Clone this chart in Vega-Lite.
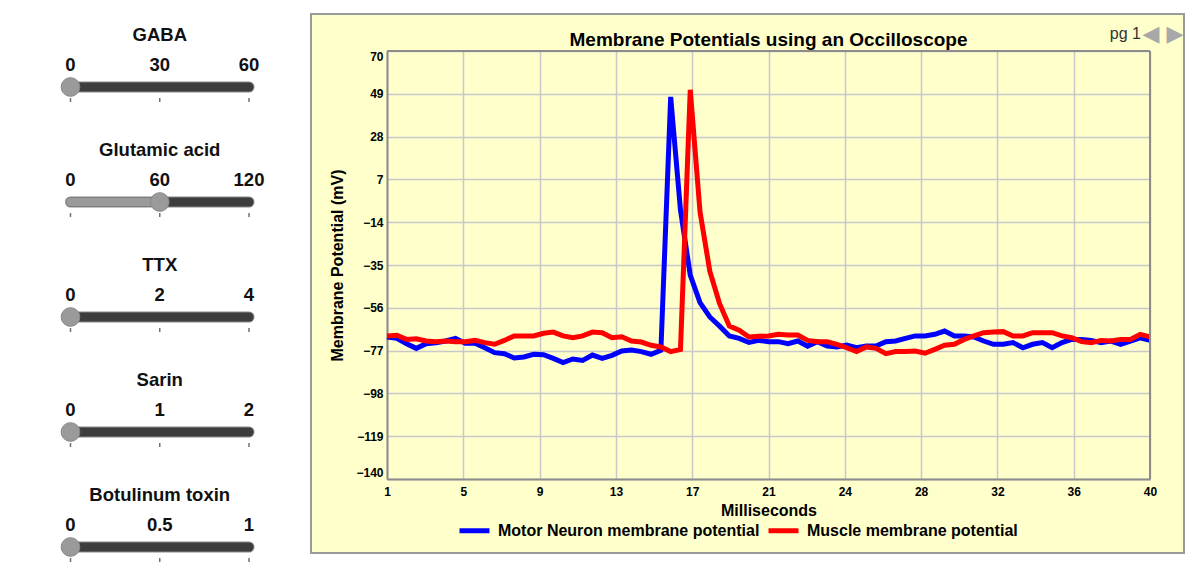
{
  "$schema": "https://vega.github.io/schema/vega-lite/v6.json",
  "background": "white",
  "padding": {"left": 0, "top": 13, "right": 0, "bottom": 0},
  "bounds": "flush",
  "spacing": 21,
  "title": {"text": "pg 1", "anchor": "end", "frame": "bounds", "orient": "top", "offset": -42, "baseline": "alphabetic", "dx": -44, "fontSize": 16, "fontWeight": "normal", "color": "#333333"},
  "datasets": {
    "sliders": [
      {"name": "GABA", "level": 0},
      {"name": "Glutamic acid", "level": 0.5},
      {"name": "TTX", "level": 0},
      {"name": "Sarin", "level": 0},
      {"name": "Botulinum toxin", "level": 0}
    ],
    "sliderLabels": [
      {"name": "GABA", "at": 0, "label": "0"}, {"name": "GABA", "at": 0.5, "label": "30"}, {"name": "GABA", "at": 1, "label": "60"},
      {"name": "Glutamic acid", "at": 0, "label": "0"}, {"name": "Glutamic acid", "at": 0.5, "label": "60"}, {"name": "Glutamic acid", "at": 1, "label": "120"},
      {"name": "TTX", "at": 0, "label": "0"}, {"name": "TTX", "at": 0.5, "label": "2"}, {"name": "TTX", "at": 1, "label": "4"},
      {"name": "Sarin", "at": 0, "label": "0"}, {"name": "Sarin", "at": 0.5, "label": "1"}, {"name": "Sarin", "at": 1, "label": "2"},
      {"name": "Botulinum toxin", "at": 0, "label": "0"}, {"name": "Botulinum toxin", "at": 0.5, "label": "0.5"}, {"name": "Botulinum toxin", "at": 1, "label": "1"}
    ],
    "potentials": [
      {"trace": "Motor Neuron membrane potential", "ms": 1, "mV": -70.3},
      {"trace": "Motor Neuron membrane potential", "ms": 1.5, "mV": -71.0},
      {"trace": "Motor Neuron membrane potential", "ms": 2, "mV": -73.6},
      {"trace": "Motor Neuron membrane potential", "ms": 2.5, "mV": -75.9},
      {"trace": "Motor Neuron membrane potential", "ms": 3, "mV": -73.6},
      {"trace": "Motor Neuron membrane potential", "ms": 3.5, "mV": -73.1},
      {"trace": "Motor Neuron membrane potential", "ms": 4, "mV": -72.3},
      {"trace": "Motor Neuron membrane potential", "ms": 4.5, "mV": -71.0},
      {"trace": "Motor Neuron membrane potential", "ms": 5, "mV": -73.4},
      {"trace": "Motor Neuron membrane potential", "ms": 5.5, "mV": -73.4},
      {"trace": "Motor Neuron membrane potential", "ms": 6, "mV": -75.6},
      {"trace": "Motor Neuron membrane potential", "ms": 6.5, "mV": -78.0},
      {"trace": "Motor Neuron membrane potential", "ms": 7, "mV": -78.5},
      {"trace": "Motor Neuron membrane potential", "ms": 7.5, "mV": -80.6},
      {"trace": "Motor Neuron membrane potential", "ms": 8, "mV": -80.1},
      {"trace": "Motor Neuron membrane potential", "ms": 8.5, "mV": -78.8},
      {"trace": "Motor Neuron membrane potential", "ms": 9, "mV": -79.0},
      {"trace": "Motor Neuron membrane potential", "ms": 9.5, "mV": -80.8},
      {"trace": "Motor Neuron membrane potential", "ms": 10, "mV": -82.9},
      {"trace": "Motor Neuron membrane potential", "ms": 10.5, "mV": -81.1},
      {"trace": "Motor Neuron membrane potential", "ms": 11, "mV": -81.8},
      {"trace": "Motor Neuron membrane potential", "ms": 11.5, "mV": -79.2},
      {"trace": "Motor Neuron membrane potential", "ms": 12, "mV": -80.8},
      {"trace": "Motor Neuron membrane potential", "ms": 12.5, "mV": -79.3},
      {"trace": "Motor Neuron membrane potential", "ms": 13, "mV": -77.2},
      {"trace": "Motor Neuron membrane potential", "ms": 13.5, "mV": -76.7},
      {"trace": "Motor Neuron membrane potential", "ms": 14, "mV": -77.5},
      {"trace": "Motor Neuron membrane potential", "ms": 14.5, "mV": -78.8},
      {"trace": "Motor Neuron membrane potential", "ms": 15, "mV": -76.9},
      {"trace": "Motor Neuron membrane potential", "ms": 15.5, "mV": 47.5},
      {"trace": "Motor Neuron membrane potential", "ms": 16, "mV": -8},
      {"trace": "Motor Neuron membrane potential", "ms": 16.5, "mV": -40},
      {"trace": "Motor Neuron membrane potential", "ms": 17, "mV": -53.5},
      {"trace": "Motor Neuron membrane potential", "ms": 17.5, "mV": -60.5},
      {"trace": "Motor Neuron membrane potential", "ms": 18, "mV": -65},
      {"trace": "Motor Neuron membrane potential", "ms": 18.5, "mV": -69.8},
      {"trace": "Motor Neuron membrane potential", "ms": 19, "mV": -71},
      {"trace": "Motor Neuron membrane potential", "ms": 19.5, "mV": -73},
      {"trace": "Motor Neuron membrane potential", "ms": 20, "mV": -72},
      {"trace": "Motor Neuron membrane potential", "ms": 20.5, "mV": -72.6},
      {"trace": "Motor Neuron membrane potential", "ms": 21, "mV": -72.6},
      {"trace": "Motor Neuron membrane potential", "ms": 21.5, "mV": -73.6},
      {"trace": "Motor Neuron membrane potential", "ms": 22, "mV": -72.3},
      {"trace": "Motor Neuron membrane potential", "ms": 22.5, "mV": -74.8},
      {"trace": "Motor Neuron membrane potential", "ms": 23, "mV": -72.6},
      {"trace": "Motor Neuron membrane potential", "ms": 23.5, "mV": -74.8},
      {"trace": "Motor Neuron membrane potential", "ms": 24, "mV": -75.2},
      {"trace": "Motor Neuron membrane potential", "ms": 24.5, "mV": -74.3},
      {"trace": "Motor Neuron membrane potential", "ms": 25, "mV": -75.6},
      {"trace": "Motor Neuron membrane potential", "ms": 25.5, "mV": -74.8},
      {"trace": "Motor Neuron membrane potential", "ms": 26, "mV": -74.8},
      {"trace": "Motor Neuron membrane potential", "ms": 26.5, "mV": -72.6},
      {"trace": "Motor Neuron membrane potential", "ms": 27, "mV": -72.3},
      {"trace": "Motor Neuron membrane potential", "ms": 27.5, "mV": -71.0},
      {"trace": "Motor Neuron membrane potential", "ms": 28, "mV": -69.8},
      {"trace": "Motor Neuron membrane potential", "ms": 28.5, "mV": -69.8},
      {"trace": "Motor Neuron membrane potential", "ms": 29, "mV": -69.0},
      {"trace": "Motor Neuron membrane potential", "ms": 29.5, "mV": -67.4},
      {"trace": "Motor Neuron membrane potential", "ms": 30, "mV": -69.8},
      {"trace": "Motor Neuron membrane potential", "ms": 30.5, "mV": -69.8},
      {"trace": "Motor Neuron membrane potential", "ms": 31, "mV": -70.3},
      {"trace": "Motor Neuron membrane potential", "ms": 31.5, "mV": -72.3},
      {"trace": "Motor Neuron membrane potential", "ms": 32, "mV": -73.9},
      {"trace": "Motor Neuron membrane potential", "ms": 32.5, "mV": -73.9},
      {"trace": "Motor Neuron membrane potential", "ms": 33, "mV": -73.1},
      {"trace": "Motor Neuron membrane potential", "ms": 33.5, "mV": -75.6},
      {"trace": "Motor Neuron membrane potential", "ms": 34, "mV": -73.9},
      {"trace": "Motor Neuron membrane potential", "ms": 34.5, "mV": -73.1},
      {"trace": "Motor Neuron membrane potential", "ms": 35, "mV": -75.6},
      {"trace": "Motor Neuron membrane potential", "ms": 35.5, "mV": -73.1},
      {"trace": "Motor Neuron membrane potential", "ms": 36, "mV": -71.5},
      {"trace": "Motor Neuron membrane potential", "ms": 36.5, "mV": -71.5},
      {"trace": "Motor Neuron membrane potential", "ms": 37, "mV": -72.0},
      {"trace": "Motor Neuron membrane potential", "ms": 37.5, "mV": -73.1},
      {"trace": "Motor Neuron membrane potential", "ms": 38, "mV": -72.3},
      {"trace": "Motor Neuron membrane potential", "ms": 38.5, "mV": -73.9},
      {"trace": "Motor Neuron membrane potential", "ms": 39, "mV": -72.3},
      {"trace": "Motor Neuron membrane potential", "ms": 39.5, "mV": -70.7},
      {"trace": "Motor Neuron membrane potential", "ms": 40, "mV": -72.0},
      {"trace": "Muscle membrane potential", "ms": 1, "mV": -69.8},
      {"trace": "Muscle membrane potential", "ms": 1.5, "mV": -69.5},
      {"trace": "Muscle membrane potential", "ms": 2, "mV": -71.5},
      {"trace": "Muscle membrane potential", "ms": 2.5, "mV": -71.2},
      {"trace": "Muscle membrane potential", "ms": 3, "mV": -72.3},
      {"trace": "Muscle membrane potential", "ms": 3.5, "mV": -72.6},
      {"trace": "Muscle membrane potential", "ms": 4, "mV": -72.3},
      {"trace": "Muscle membrane potential", "ms": 4.5, "mV": -72.6},
      {"trace": "Muscle membrane potential", "ms": 5, "mV": -72.6},
      {"trace": "Muscle membrane potential", "ms": 5.5, "mV": -72.0},
      {"trace": "Muscle membrane potential", "ms": 6, "mV": -73.1},
      {"trace": "Muscle membrane potential", "ms": 6.5, "mV": -73.9},
      {"trace": "Muscle membrane potential", "ms": 7, "mV": -72.0},
      {"trace": "Muscle membrane potential", "ms": 7.5, "mV": -69.8},
      {"trace": "Muscle membrane potential", "ms": 8, "mV": -69.8},
      {"trace": "Muscle membrane potential", "ms": 8.5, "mV": -69.8},
      {"trace": "Muscle membrane potential", "ms": 9, "mV": -68.5},
      {"trace": "Muscle membrane potential", "ms": 9.5, "mV": -67.9},
      {"trace": "Muscle membrane potential", "ms": 10, "mV": -69.8},
      {"trace": "Muscle membrane potential", "ms": 10.5, "mV": -70.7},
      {"trace": "Muscle membrane potential", "ms": 11, "mV": -69.8},
      {"trace": "Muscle membrane potential", "ms": 11.5, "mV": -67.9},
      {"trace": "Muscle membrane potential", "ms": 12, "mV": -68.2},
      {"trace": "Muscle membrane potential", "ms": 12.5, "mV": -70.7},
      {"trace": "Muscle membrane potential", "ms": 13, "mV": -70.2},
      {"trace": "Muscle membrane potential", "ms": 13.5, "mV": -72.3},
      {"trace": "Muscle membrane potential", "ms": 14, "mV": -72.8},
      {"trace": "Muscle membrane potential", "ms": 14.5, "mV": -74.4},
      {"trace": "Muscle membrane potential", "ms": 15, "mV": -75.2},
      {"trace": "Muscle membrane potential", "ms": 15.5, "mV": -77.5},
      {"trace": "Muscle membrane potential", "ms": 16, "mV": -76.4},
      {"trace": "Muscle membrane potential", "ms": 16.5, "mV": 51},
      {"trace": "Muscle membrane potential", "ms": 17, "mV": -9},
      {"trace": "Muscle membrane potential", "ms": 17.5, "mV": -38},
      {"trace": "Muscle membrane potential", "ms": 18, "mV": -54},
      {"trace": "Muscle membrane potential", "ms": 18.5, "mV": -65},
      {"trace": "Muscle membrane potential", "ms": 19, "mV": -67},
      {"trace": "Muscle membrane potential", "ms": 19.5, "mV": -70.3},
      {"trace": "Muscle membrane potential", "ms": 20, "mV": -70.0},
      {"trace": "Muscle membrane potential", "ms": 20.5, "mV": -69.8},
      {"trace": "Muscle membrane potential", "ms": 21, "mV": -69.0},
      {"trace": "Muscle membrane potential", "ms": 21.5, "mV": -69.4},
      {"trace": "Muscle membrane potential", "ms": 22, "mV": -69.4},
      {"trace": "Muscle membrane potential", "ms": 22.5, "mV": -72.0},
      {"trace": "Muscle membrane potential", "ms": 23, "mV": -72.6},
      {"trace": "Muscle membrane potential", "ms": 23.5, "mV": -72.6},
      {"trace": "Muscle membrane potential", "ms": 24, "mV": -73.9},
      {"trace": "Muscle membrane potential", "ms": 24.5, "mV": -75.6},
      {"trace": "Muscle membrane potential", "ms": 25, "mV": -77.5},
      {"trace": "Muscle membrane potential", "ms": 25.5, "mV": -75.2},
      {"trace": "Muscle membrane potential", "ms": 26, "mV": -75.9},
      {"trace": "Muscle membrane potential", "ms": 26.5, "mV": -78.5},
      {"trace": "Muscle membrane potential", "ms": 27, "mV": -77.5},
      {"trace": "Muscle membrane potential", "ms": 27.5, "mV": -77.5},
      {"trace": "Muscle membrane potential", "ms": 28, "mV": -77.2},
      {"trace": "Muscle membrane potential", "ms": 28.5, "mV": -78.3},
      {"trace": "Muscle membrane potential", "ms": 29, "mV": -76.4},
      {"trace": "Muscle membrane potential", "ms": 29.5, "mV": -74.4},
      {"trace": "Muscle membrane potential", "ms": 30, "mV": -73.9},
      {"trace": "Muscle membrane potential", "ms": 30.5, "mV": -71.5},
      {"trace": "Muscle membrane potential", "ms": 31, "mV": -69.8},
      {"trace": "Muscle membrane potential", "ms": 31.5, "mV": -68.2},
      {"trace": "Muscle membrane potential", "ms": 32, "mV": -67.9},
      {"trace": "Muscle membrane potential", "ms": 32.5, "mV": -67.7},
      {"trace": "Muscle membrane potential", "ms": 33, "mV": -69.8},
      {"trace": "Muscle membrane potential", "ms": 33.5, "mV": -69.8},
      {"trace": "Muscle membrane potential", "ms": 34, "mV": -68.2},
      {"trace": "Muscle membrane potential", "ms": 34.5, "mV": -68.2},
      {"trace": "Muscle membrane potential", "ms": 35, "mV": -68.2},
      {"trace": "Muscle membrane potential", "ms": 35.5, "mV": -69.8},
      {"trace": "Muscle membrane potential", "ms": 36, "mV": -70.7},
      {"trace": "Muscle membrane potential", "ms": 36.5, "mV": -72.6},
      {"trace": "Muscle membrane potential", "ms": 37, "mV": -73.1},
      {"trace": "Muscle membrane potential", "ms": 37.5, "mV": -72.0},
      {"trace": "Muscle membrane potential", "ms": 38, "mV": -72.3},
      {"trace": "Muscle membrane potential", "ms": 38.5, "mV": -71.5},
      {"trace": "Muscle membrane potential", "ms": 39, "mV": -71.5},
      {"trace": "Muscle membrane potential", "ms": 39.5, "mV": -69.0},
      {"trace": "Muscle membrane potential", "ms": 40, "mV": -70.3}
    ]
  },
  "hconcat": [
    {
      "width": 290,
      "height": 539,
      "view": {"stroke": null},
      "layer": [
        {
          "data": {"name": "sliders"},
          "mark": {"type": "rule", "color": "#8a8a8a", "strokeWidth": 11, "strokeCap": "round"},
          "encoding": {
            "x": {"datum": 0, "type": "quantitative", "scale": {"domain": [0, 1], "range": [70.5, 249], "nice": false, "zero": false}, "axis": null},
            "x2": {"datum": 1},
            "y": {"field": "name", "type": "nominal", "scale": {"type": "point", "domain": ["GABA", "Glutamic acid", "TTX", "Sarin", "Botulinum toxin"], "range": [73, 533], "padding": 0}, "axis": null}
          }
        },
        {
          "data": {"name": "sliders"},
          "mark": {"type": "rule", "color": "#3d3d3d", "strokeWidth": 9, "strokeCap": "round"},
          "encoding": {
            "x": {"datum": 0, "type": "quantitative"},
            "x2": {"datum": 1},
            "y": {"field": "name", "type": "nominal"}
          }
        },
        {
          "data": {"name": "sliders"},
          "transform": [{"filter": "datum.level > 0"}],
          "mark": {"type": "rule", "color": "#9a9a9a", "strokeWidth": 9, "strokeCap": "round"},
          "encoding": {
            "x": {"field": "level", "type": "quantitative"},
            "x2": {"datum": 0},
            "y": {"field": "name", "type": "nominal"}
          }
        },
        {
          "data": {"name": "sliderLabels"},
          "mark": {"type": "tick", "orient": "vertical", "color": "#333333", "size": 4, "thickness": 1.5, "yOffset": 13},
          "encoding": {
            "x": {"field": "at", "type": "quantitative"},
            "y": {"field": "name", "type": "nominal"}
          }
        },
        {
          "data": {"name": "sliders"},
          "mark": {"type": "circle", "size": 350, "fill": "#9a9a9a", "stroke": "#888888", "strokeWidth": 1, "opacity": 1},
          "encoding": {
            "x": {"field": "level", "type": "quantitative"},
            "y": {"field": "name", "type": "nominal"}
          }
        },
        {
          "data": {"name": "sliderLabels"},
          "mark": {"type": "text", "fontSize": 18.5, "fontWeight": "bold", "color": "#111111", "dy": -22, "baseline": "middle", "align": "center"},
          "encoding": {
            "x": {"field": "at", "type": "quantitative"},
            "y": {"field": "name", "type": "nominal"},
            "text": {"field": "label"}
          }
        },
        {
          "data": {"name": "sliders"},
          "mark": {"type": "text", "fontSize": 18.5, "fontWeight": "bold", "color": "#111111", "dy": -52, "baseline": "middle", "align": "center"},
          "encoding": {
            "x": {"datum": 0.5, "type": "quantitative"},
            "y": {"field": "name", "type": "nominal"},
            "text": {"field": "name"}
          }
        }
      ]
    },
    {
      "width": 873,
      "height": 539,
      "view": {"fill": "#FFFFCC", "stroke": "#9a9a9a", "strokeWidth": 2},
      "title": {"text": "Membrane Potentials using an Occilloscope", "anchor": "middle", "frame": "group", "offset": -51, "baseline": "alphabetic", "dx": 21, "fontSize": 19, "fontWeight": "bold", "color": "#000000"},
      "resolve": {"axis": {"x": "independent"}},
      "layer": [
        {
          "data": {"name": "potentials"},
          "mark": {"type": "line", "strokeWidth": 5},
          "encoding": {
            "x": {
              "field": "ms", "type": "quantitative", "title": "Milliseconds",
              "scale": {"domain": [1, 40], "range": [76, 839], "nice": false, "zero": false},
              "axis": {"orient": "bottom", "offset": -74, "values": [1, 4.9, 8.8, 12.7, 16.6, 20.5, 24.4, 28.3, 32.2, 36.1, 40], "labelExpr": "round(datum.value)", "ticks": false, "labelFlush": false, "labelPadding": 7, "labelFontSize": 12, "labelFontWeight": "bold", "labelColor": "#000000", "domainColor": "#8c8c8c", "domainWidth": 2, "grid": false, "titleFontSize": 16, "titleFontWeight": "bold", "titleColor": "#000000", "titlePadding": 5}
            },
            "y": {
              "field": "mV", "type": "quantitative", "title": "Membrane Potential (mV)",
              "scale": {"domain": [-140, 70], "range": [465, 37], "nice": false, "zero": false},
              "axis": {"orient": "left", "offset": -76, "values": [-140, -119, -98, -77, -56, -35, -14, 7, 28, 49, 70], "ticks": false, "labelFlush": true, "labelPadding": 4, "labelFontSize": 12, "labelFontWeight": "bold", "labelColor": "#000000", "domainColor": "#8c8c8c", "domainWidth": 2, "grid": true, "gridColor": "#c8c8c8", "gridWidth": 1.5, "titleFontSize": 16, "titleFontWeight": "bold", "titleColor": "#000000", "titlePadding": 10}
            },
            "color": {
              "field": "trace", "type": "nominal",
              "scale": {"domain": ["Motor Neuron membrane potential", "Muscle membrane potential"], "range": ["#0000FF", "#FF0000"]},
              "legend": {"orient": "none", "legendX": 457, "legendY": 499, "direction": "horizontal", "title": null, "symbolType": "stroke", "symbolSize": 900, "symbolStrokeWidth": 5, "labelFontSize": 16, "labelFontWeight": "bold", "labelColor": "#000000", "labelOffset": 6, "labelLimit": 0, "columnPadding": -2}
            }
          }
        },
        {
          "data": {"values": [{"edge": "top"}]},
          "mark": {"type": "rule", "color": "#8c8c8c", "strokeWidth": 2},
          "encoding": {
            "x": {"datum": 1, "type": "quantitative", "axis": {"orient": "top", "offset": 0, "values": [1, 4.9, 8.8, 12.7, 16.6, 20.5, 24.4, 28.3, 32.2, 36.1, 40], "grid": true, "gridColor": "#c8c8c8", "gridWidth": 1.5, "labels": false, "ticks": false, "domain": false, "title": null}},
            "x2": {"datum": 40},
            "y": {"datum": 70, "type": "quantitative"}
          }
        },
        {
          "data": {"values": [{"edge": "right"}]},
          "mark": {"type": "rule", "color": "#8c8c8c", "strokeWidth": 2},
          "encoding": {"x": {"datum": 40, "type": "quantitative", "axis": null}, "y": {"datum": -140, "type": "quantitative"}, "y2": {"datum": 70}}
        },
        {
          "data": {"values": [{"nav": "◀ ▶"}]},
          "mark": {"type": "text", "font": "DejaVu Sans", "fontSize": 22, "color": "#a8a8a8", "dx": 13, "dy": -17, "align": "center", "baseline": "middle"},
          "encoding": {"x": {"datum": 40, "type": "quantitative", "axis": null}, "y": {"datum": 70, "type": "quantitative"}, "text": {"field": "nav"}}
        }
      ]
    }
  ],
  "config": {
    "font": "Liberation Sans",
    "view": {"stroke": null}
  }
}
